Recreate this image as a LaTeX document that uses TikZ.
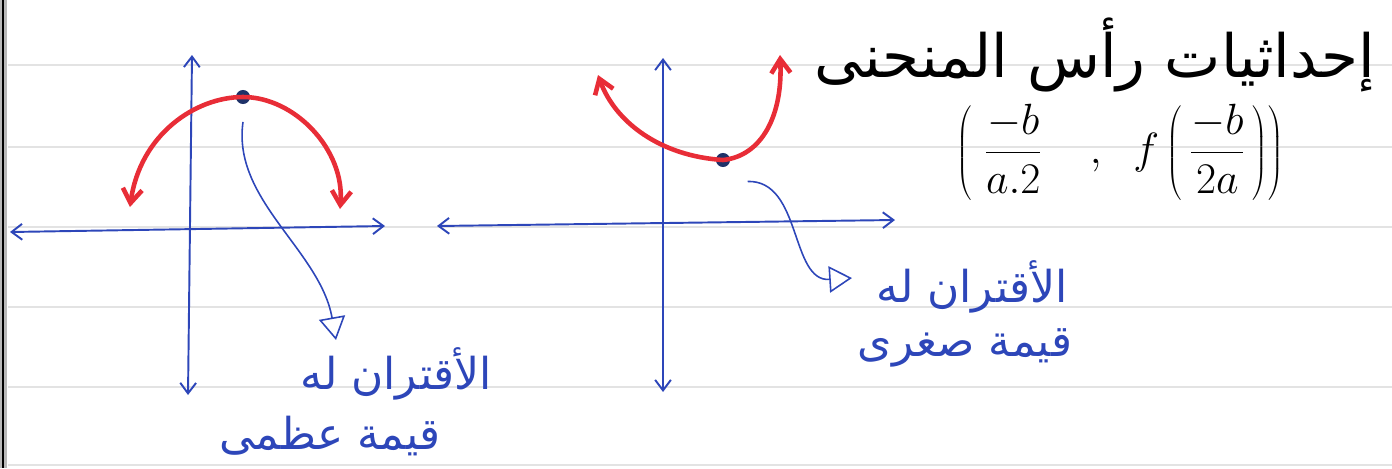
\documentclass[tikz,border=0pt]{standalone}
\usepackage{fontspec}
\usetikzlibrary{arrows.meta,positioning}
\TeXXeTstate=1
\newfontfamily\arabicfont[Script=Arabic]{DejaVu Sans}
\definecolor{penblue}{RGB}{45,70,185}
\definecolor{penred}{RGB}{232,45,55}
\definecolor{inkdot}{RGB}{30,50,105}

\begin{document}
\begin{tikzpicture}[
  x=0.02cm,y=-0.02cm,
  axis/.style={{Straight Barb[length=6pt,width=9pt]}-{Straight Barb[length=6pt,width=9pt]},penblue,line width=1.1pt},
  curve/.style={{Straight Barb[length=8pt,width=11pt]}-{Straight Barb[length=8pt,width=11pt]},penred,line width=2.6pt},
  pointer/.style={-{Triangle[open,length=13pt,width=15pt]},penblue,line width=0.9pt},
  vertex/.style={circle,fill=inkdot,inner sep=0pt,minimum size=8pt},
  note/.style={penblue,font=\arabicfont\fontsize{25}{30}\selectfont},
  ruled/.style={gray!22,line width=0.7pt}
]
  \useasboundingbox (0,0) rectangle (1392,468);
  % ruled paper
  \foreach \yy in {65,147,227,307,387,465}
    \draw[ruled] (8,\yy) -- (1392,\yy);
  \fill[gray!55] (0,0) rectangle (7,468);
  \draw[line width=1pt] (3,0) -- (3,468);

  % maximum
  \coordinate (lw) at (10,232);
  \coordinate (le) at (385,226);
  \coordinate (ln) at (192,55);
  \coordinate (ls) at (188,395);
  \draw[axis] (lw) -- (le);
  \draw[axis] (ln) -- (ls);
  \node[vertex] (top) at (243,97) {};
  \coordinate (topL) at (130,207);
  \coordinate (topR) at (340,209);
  \draw[curve] (topL) .. controls (140,135) and (195,97) .. (top.center)
    .. controls (295,97) and (345,150) .. (topR);
  \coordinate (maxtip) at (336,340);
  \draw[pointer] ([yshift=-10pt]top.south) .. controls (232,200) and (320,250) .. (maxtip);
  \node[note] (maxa) at (396,374) {\beginR الأقتران له\endR};
  \node[note] (maxb) at (330,436) {\beginR قيمة عظمى\endR};

  % minimum
  \coordinate (rw) at (437,226);
  \coordinate (re) at (895,220);
  \coordinate (rn) at (663,58);
  \coordinate (rs) at (663,392);
  \draw[axis] (rw) -- (re);
  \draw[axis] (rn) -- (rs);
  \node[vertex] (bot) at (723,160) {};
  \coordinate (botL) at (598,75);
  \coordinate (botR) at (780,55);
  \draw[curve] (botL) .. controls (615,122) and (660,156) .. (bot.center)
    .. controls (762,156) and (783,115) .. (botR);
  \coordinate (mintip) at (852,278);
  \draw[pointer] ([xshift=14pt,yshift=-8pt]bot.south) .. controls (802,180) and (790,282) .. (mintip);
  \node[note] (mina) at (972,287) {\beginR الأقتران له\endR};
  \node[note] (minb) at (965,348) {\beginR قيمة صغرى\endR};

  % vertex formula
  \node[font=\arabicfont\fontsize{34}{40}\selectfont] (head) at (1095,55)
    {\beginR إحداثيات رأس المنحنى\endR};
  \node[font=\fontsize{27}{32}\selectfont] (coord) at (1120,152)
    {$\displaystyle \left(\;\frac{-b}{a.2}\quad,\;\; f\left(\,\frac{-b}{2a}\,\right)\right)$};
\end{tikzpicture}
\end{document}
